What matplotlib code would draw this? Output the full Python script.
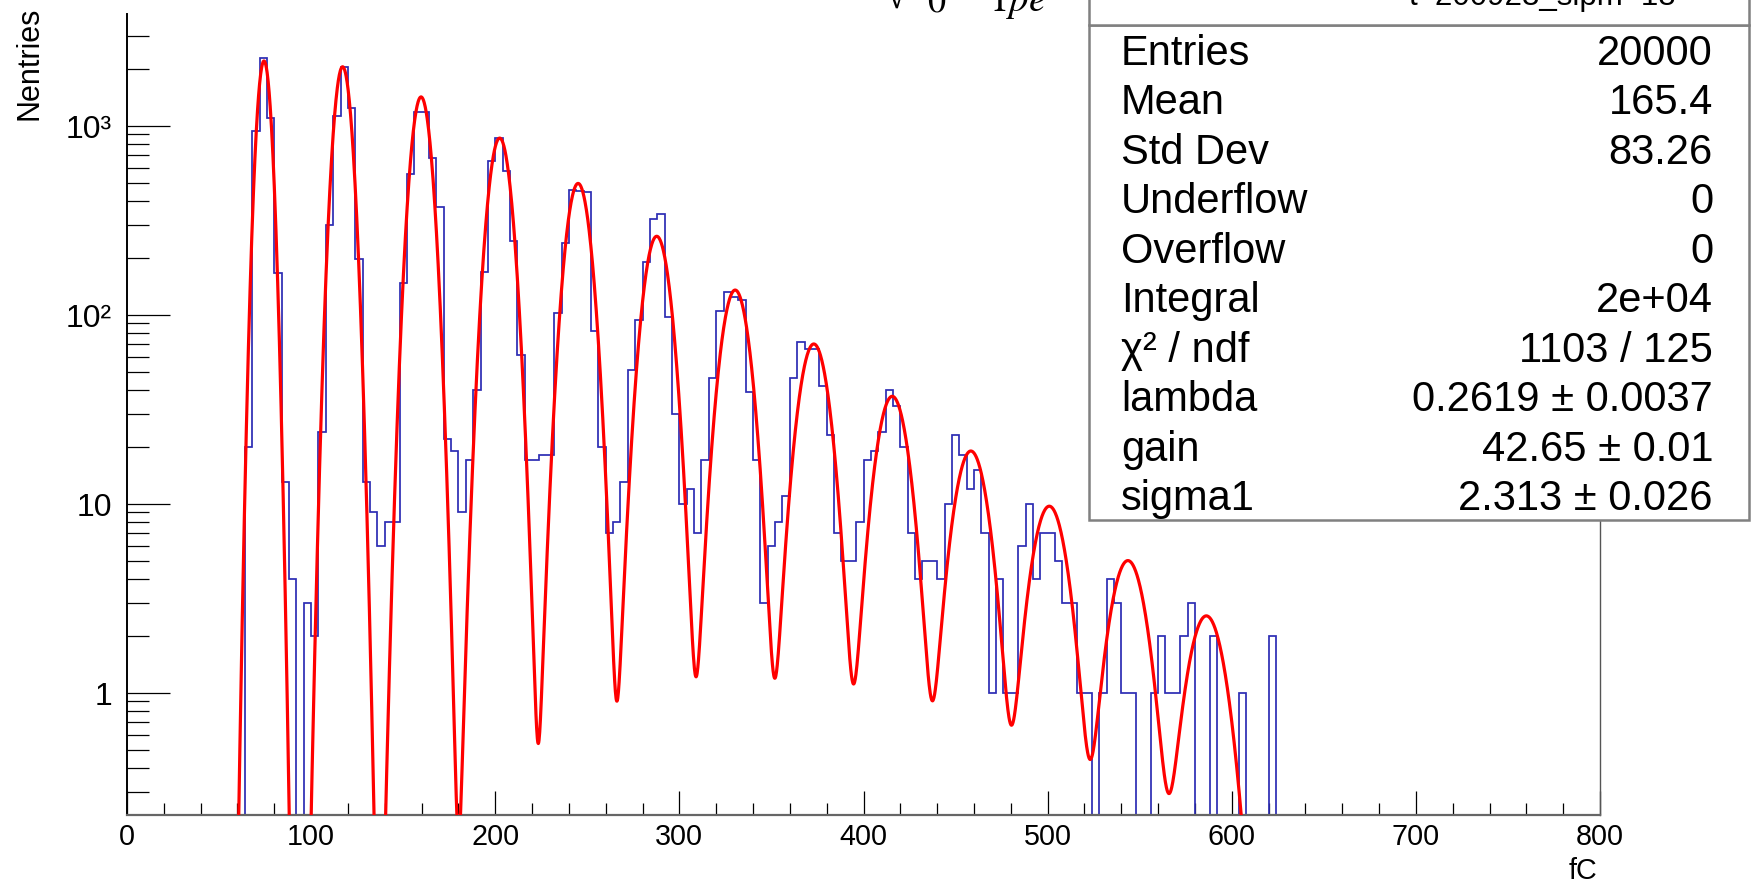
import numpy as np
import matplotlib
matplotlib.use("Agg")
import matplotlib.pyplot as plt
from matplotlib.ticker import FixedLocator, MultipleLocator, LogLocator, NullFormatter
from matplotlib.transforms import offset_copy
from matplotlib.patches import Rectangle

plt.rcParams['font.family'] = ['Liberation Sans', 'DejaVu Sans']
plt.rcParams['mathtext.fontset'] = 'stix'

# histogram, 4 fC bins, first listed bin starts at 60 fC
bin_width = 4
first_edge = 60
counts = [
    0, 20, 940, 2290, 1100, 166, 13, 4, 0, 3,          # 60 - 96
    2, 24, 299, 1122, 2050, 1240, 198, 13, 9, 6,       # 100 - 136
    8, 8, 148, 553, 1175, 1175, 676, 370, 22, 19,      # 140 - 176
    9, 17, 40, 168, 650, 860, 574, 245, 61, 17,        # 180 - 216
    17, 18, 18, 102, 240, 456, 450, 445, 82, 20,       # 220 - 256
    7, 8, 13, 51, 94, 190, 320, 341, 97, 30,           # 260 - 296
    10, 12, 7, 17, 46, 105, 132, 124, 120, 39,         # 300 - 336
    17, 3, 6, 8, 11, 46, 72, 66, 66, 42,               # 340 - 376
    23, 7, 5, 5, 8, 17, 19, 24, 40, 33,                # 380 - 416
    20, 7, 4, 5, 5, 4, 10, 23, 18, 12,                 # 420 - 456
    15, 7, 1, 4, 1, 1, 6, 10, 4, 7,                    # 460 - 496
    7, 5, 3, 3, 1, 1, 0, 1, 4, 3,                      # 500 - 536
    1, 1, 0, 0, 1, 2, 1, 1, 2, 3,                      # 540 - 576
    0, 0, 2, 0, 0, 0, 1, 0, 0, 0,                      # 580 - 616
    2,                                                 # 620
]

# fitted curve: peaks
peak_centers = [74.4, 117.1, 159.7, 202.4, 245.0, 287.7, 330.3,
                373.0, 415.6, 458.3, 500.9, 543.6, 586.2]
peak_heights = [2200, 2050, 1420, 860, 495, 260, 135, 70, 37, 19, 9.7, 5.0, 2.55]
peak_sigmas = [3.2, 4.0, 4.6, 5.2, 5.6, 6.1, 6.5, 6.9, 7.3, 7.7, 8.0, 8.3, 8.6]
fit_range = (55, 610)

x_ticks = [0, 100, 200, 300, 400, 500, 600, 700, 800]
y_ticks = [1, 10, 100, 1000]
y_tick_labels = ['1', '10', '10²', '10³']

stats_labels = ['Entries', 'Mean', 'Std Dev', 'Underflow', 'Overflow', 'Integral',
                'χ² / ndf', 'lambda', 'gain', 'sigma1']
stats_values = ['20000', '165.4', '83.26', '0', '0', '2e+04', '1103 / 125',
                '0.2619 ± 0.0037', '42.65 ± 0.01', '2.313 ± 0.026']

W, H = 1752, 885
fig = plt.figure(figsize=(W / 100, H / 100), dpi=100)
ax = fig.add_axes([127 / W, 70 / H, 1473 / W, 801 / H])

# histogram outline
edges = np.arange(0, 800 + bin_width, bin_width)
full = np.zeros(len(edges) - 1)
i0 = first_edge // bin_width
full[i0:i0 + len(counts)] = counts
shown = np.where(full > 0, full, 1e-3)
ax.stairs(shown, edges, baseline=None, color='#2c2cb4', lw=1.25, zorder=2)

# fit function
xf = np.linspace(fit_range[0], fit_range[1], 3000)
yf = np.zeros_like(xf)
for c, h, s in zip(peak_centers, peak_heights, peak_sigmas):
    yf += h * np.exp(-0.5 * ((xf - c) / s) ** 2)
ax.plot(xf, yf, color='#ff0000', lw=2.3, zorder=3)

ax.set_yscale('log')
ax.set_xlim(0, 800)
ax.set_ylim(0.2254, 3899)

ax.spines['top'].set_visible(False)
ax.spines['right'].set_color('#555555')
ax.spines['right'].set_linewidth(1.0)
ax.spines['left'].set_color('black')
ax.spines['left'].set_linewidth(1.4)
ax.spines['bottom'].set_color('#666666')
ax.spines['bottom'].set_linewidth(1.6)

ax.xaxis.set_major_locator(FixedLocator(x_ticks))
ax.xaxis.set_minor_locator(MultipleLocator(20))
ax.set_xticklabels([str(v) for v in x_ticks])
ax.tick_params(axis='x', which='major', direction='in', length=17.3, width=0.9,
               color='black', pad=6, labelsize=20.7)
ax.tick_params(axis='x', which='minor', direction='in', length=8.6, width=0.9, color='black')

ax.yaxis.set_major_locator(FixedLocator(y_ticks))
ax.yaxis.set_minor_locator(LogLocator(base=10, subs=np.arange(2, 10), numticks=20))
ax.yaxis.set_major_formatter(NullFormatter())
ax.yaxis.set_minor_formatter(NullFormatter())
ax.tick_params(axis='y', which='major', direction='in', length=31, width=0.9, color='black')
ax.tick_params(axis='y', which='minor', direction='in', length=15.8, width=0.9, color='black')

# y labels, right-aligned about 15 px left of the axis line
ytr = offset_copy(ax.get_yaxis_transform(), fig=fig, x=0, y=-8.8, units='points')
for v, lab in zip(y_ticks, y_tick_labels):
    ax.text(-0.0102, v, lab, transform=ytr, ha='right', va='baseline', fontsize=23)

fig.text(29 / W, 1 - 7 / H, 'Nentries', rotation=90, ha='center', va='top', fontsize=22)
fig.text(1597 / W, 1 - 879 / H, 'fC', ha='right', va='baseline', fontsize=20.7)

# title fragments cut off at the top edge, as in the source image
fig.text(885 / W, 1 - 9 / H, '√', ha='left', va='baseline', fontsize=28,
         family=['Liberation Serif', 'DejaVu Serif'])
fig.text(927 / W, 1 - 11 / H, r'$0$', ha='left', va='baseline', fontsize=26)
fig.text(989 / W, 1 - 11 / H, r'$1pe$', ha='left', va='baseline', fontsize=28)

# stats box
bx0, bx1, by0, by1 = 1089, 1749, 25, 520
fig.add_artist(Rectangle((bx0 / W, 1 - by1 / H), (bx1 - bx0) / W, (by1 - by0) / H,
                         transform=fig.transFigure, facecolor='white',
                         edgecolor='#808080', lw=1.8, zorder=5))
fig.add_artist(Rectangle((bx0 / W, 1 - by0 / H), (bx1 - bx0) / W, 40 / H,
                         transform=fig.transFigure, facecolor='white',
                         edgecolor='#808080', lw=1.8, zorder=5))
fig.text(1676 / W, 1 - 5 / H, 't=200923_sipm=18', ha='right', va='baseline',
         fontsize=22.5, zorder=6)

row_h = (by1 - by0) / len(stats_labels)
for k, (lab, val) in enumerate(zip(stats_labels, stats_values)):
    yb = 1 - (by0 + row_h * (k + 0.5) + 15) / H
    fig.text(1121 / W, yb, lab, ha='left', va='baseline', fontsize=30, zorder=6)
    fig.text(1713 / W, yb, val, ha='right', va='baseline', fontsize=30, zorder=6)

fig.savefig('out.png', dpi=100)
